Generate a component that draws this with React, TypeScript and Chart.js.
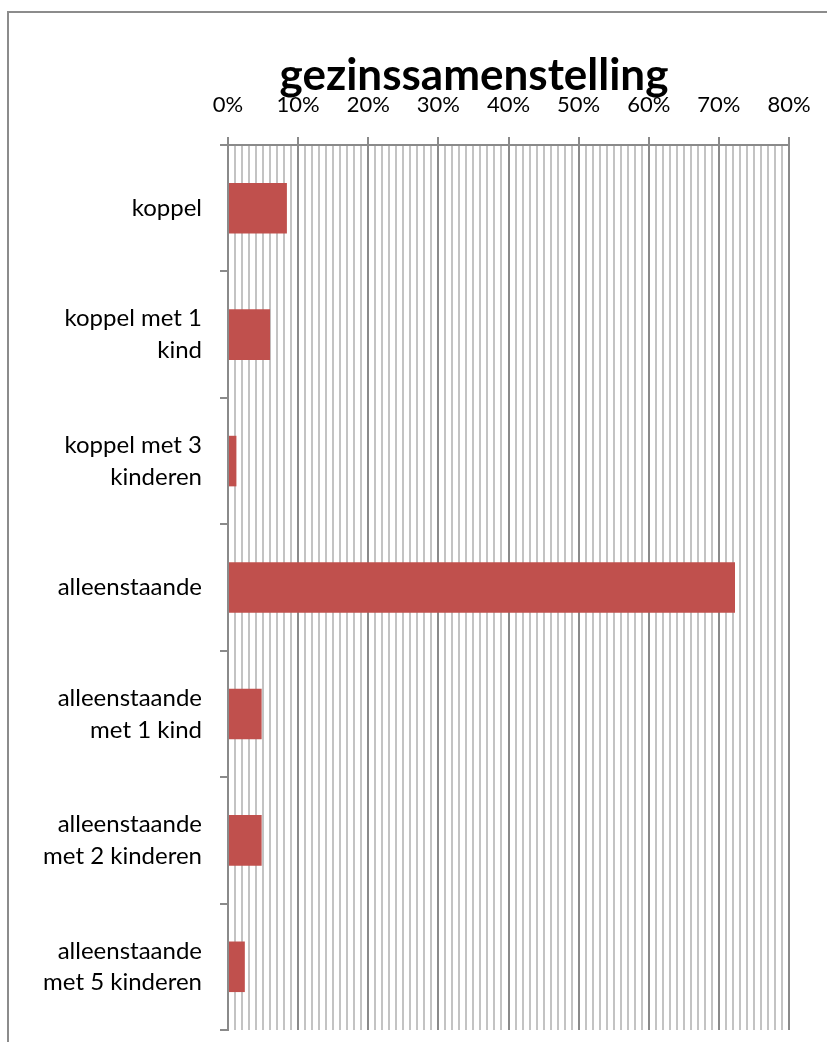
import React, { useEffect, useRef } from "react";
import { Chart, registerables } from "chart.js";

Chart.register(...registerables);

const categories: string[][] = [
  ["koppel"],
  ["koppel met 1", "kind"],
  ["koppel met 3", "kinderen"],
  ["alleenstaande"],
  ["alleenstaande", "met 1 kind"],
  ["alleenstaande", "met 2 kinderen"],
  ["alleenstaande", "met 5 kinderen"],
];

const shares: number[] = [8.4, 6.0, 1.2, 72.3, 4.8, 4.8, 2.4];

const titleText = "gezinssamenstelling";
const axisMin = 0;
const axisMax = 80;
const majorStep = 10;

const titlePlugin = {
  id: "chartTitle",
  afterDraw(chart: any) {
    const ctx = chart.ctx;
    ctx.save();
    ctx.font = "bold 44px Lato";
    ctx.fillStyle = "#000";
    ctx.textAlign = "center";
    ctx.textBaseline = "alphabetic";
    ctx.fillText(titleText, 474, 90);
    ctx.restore();
  },
};

export default function App() {
  const ref = useRef<HTMLCanvasElement | null>(null);

  useEffect(() => {
    if (!ref.current) return;
    const chart = new Chart(ref.current, {
      type: "bar",
      data: {
        labels: categories,
        datasets: [
          {
            data: shares,
            backgroundColor: "#C0504D",
            borderWidth: 0,
            barPercentage: 0.4,
            categoryPercentage: 1,
          },
        ],
      },
      plugins: [titlePlugin],
      options: {
        indexAxis: "y",
        responsive: false,
        animation: false,
        layout: { padding: { left: 0, right: 38, top: 0, bottom: 12 } },
        plugins: {
          legend: { display: false },
          tooltip: { enabled: false },
          title: { display: false },
        },
        scales: {
          x: {
            position: "top",
            min: axisMin,
            max: axisMax,
            afterFit: (scale: any) => {
              scale.height = 145;
              scale.paddingLeft = 0;
              scale.paddingRight = 0;
            },
            ticks: {
              stepSize: 1,
              autoSkip: false,
              maxRotation: 0,
              minRotation: 0,
              padding: 19,
              color: "#000",
              font: { family: "Lato", size: 22 },
              callback: (v: any) => (Number(v) % majorStep === 0 ? `${v}%` : ""),
            },
            grid: {
              color: (ctx: any) =>
                ctx.tick && ctx.tick.value % majorStep === 0 ? "#8a8a8a" : "#c3c3c3",
              tickColor: (ctx: any) =>
                ctx.tick && ctx.tick.value % majorStep === 0 ? "#8a8a8a" : "rgba(0,0,0,0)",
              lineWidth: 2,
              tickLength: 8,
            },
            border: { display: true, color: "#8a8a8a", width: 2 },
          },
          y: {
            afterFit: (scale: any) => {
              scale.width = 228;
              scale.paddingTop = 0;
              scale.paddingBottom = 0;
            },
            ticks: {
              padding: 18,
              color: "#000",
              font: { family: "Lato", size: 24, lineHeight: 1.33 },
            },
            grid: {
              offset: true,
              drawOnChartArea: false,
              color: "#8a8a8a",
              lineWidth: 2,
              tickLength: 8,
            },
            border: { display: true, color: "#8a8a8a", width: 2 },
          },
        },
      },
    });
    return () => chart.destroy();
  }, []);

  return (
    <div
      style={{
        position: "fixed",
        left: 0,
        top: 0,
        width: 827,
        height: 1042,
        overflow: "hidden",
        background: "#fff",
      }}
    >
      <div
        style={{
          position: "absolute",
          left: 7,
          top: 11,
          width: 1000,
          height: 1200,
          border: "2px solid #8c8c8c",
        }}
      />
      <canvas
        ref={ref}
        width={827}
        height={1042}
        style={{ position: "absolute", left: 0, top: 0, display: "block" }}
      />
    </div>
  );
}
